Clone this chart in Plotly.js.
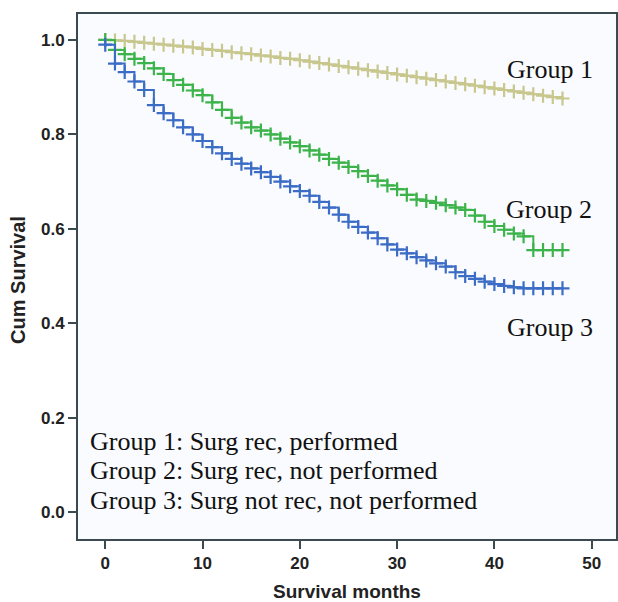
<!DOCTYPE html>
<html>
<head>
<meta charset="utf-8">
<script src="https://cdn.plot.ly/plotly-3.0.1.min.js"></script>
<style>html,body{margin:0;padding:0;background:#fff;}#chart{width:618px;height:602px;}</style>
</head>
<body>
<div id="chart"></div>
<script>
const months = [0,1,2,3,4,5,6,7,8,9,10,11,12,13,14,15,16,17,18,19,20,21,22,23,24,25,26,27,28,29,30,31,32,33,34,35,36,37,38,39,40,41,42,43,44,45,46,47];
const group1 = [1.000,0.999,0.998,0.996,0.994,0.992,0.990,0.988,0.986,0.984,0.981,0.979,0.977,0.974,0.972,0.970,0.967,0.965,0.962,0.960,0.957,0.954,0.951,0.948,0.945,0.942,0.939,0.936,0.933,0.930,0.927,0.924,0.921,0.918,0.915,0.912,0.909,0.906,0.903,0.900,0.897,0.894,0.891,0.888,0.885,0.882,0.879,0.876];
const group2 = [1.000,0.979,0.970,0.960,0.951,0.940,0.928,0.915,0.905,0.893,0.883,0.868,0.852,0.835,0.825,0.815,0.808,0.800,0.791,0.783,0.775,0.766,0.757,0.748,0.740,0.731,0.722,0.712,0.702,0.692,0.684,0.672,0.662,0.659,0.655,0.650,0.645,0.640,0.628,0.615,0.606,0.598,0.590,0.584,0.555,0.555,0.555,0.555];
const group3 = [0.990,0.950,0.932,0.912,0.894,0.862,0.845,0.830,0.815,0.800,0.786,0.773,0.760,0.748,0.738,0.728,0.720,0.710,0.700,0.690,0.680,0.670,0.657,0.645,0.630,0.615,0.604,0.592,0.580,0.567,0.556,0.548,0.540,0.533,0.527,0.520,0.508,0.500,0.494,0.488,0.483,0.479,0.476,0.474,0.474,0.474,0.474,0.474];
const groupNames = ["Group 1","Group 2","Group 3"];
const legendLines = ["Group 1: Surg rec, performed","Group 2: Surg rec, not performed","Group 3: Surg not rec, not performed"];
const xTicks = [0,10,20,30,40,50];
const yTicks = [0.0,0.2,0.4,0.6,0.8,1.0];

const colors = ["#c8c78e","#3db44b","#3b6cc6"];
const series = [group1, group2, group3];

const traces = series.map((ys, i) => ({
  x: months, y: ys, type: 'scatter', mode: 'lines+markers',
  line: {shape: 'hv', color: colors[i], width: 2},
  marker: {symbol: 'cross-thin', size: 10, line: {color: colors[i], width: 2.2}, color: colors[i]},
  showlegend: false, hoverinfo: 'skip'
}));

const serif = "Liberation Serif, Times New Roman, serif";
const labelPos = [[45.7, 0.937],[45.6, 0.640],[45.7, 0.391]];
const annotations = groupNames.map((t, i) => ({
  x: labelPos[i][0], y: labelPos[i][1], xref: 'x', yref: 'y', text: t, showarrow: false,
  xanchor: 'center', yanchor: 'middle', font: {family: serif, size: 26, color: '#111'}
}));
const legendY = [0.150, 0.088, 0.024];
legendLines.forEach((t, i) => annotations.push({
  x: -1.8, y: legendY[i], xref: 'x', yref: 'y', text: t, showarrow: false,
  xanchor: 'left', yanchor: 'middle', font: {family: serif, size: 26, color: '#111'}
}));
annotations.push({
  x: -0.112, y: 0.493, xref: 'paper', yref: 'paper', text: '<b>Cum Survival</b>', showarrow: false,
  textangle: -90, xanchor: 'center', yanchor: 'middle', font: {size: 20, color: '#222'}
});

const layout = {
  width: 618, height: 602,
  margin: {l: 78, r: 2, t: 14, b: 63},
  paper_bgcolor: '#ffffff', plot_bgcolor: '#fafbfe',
  font: {family: 'Liberation Sans, Arial, sans-serif', color: '#222'},
  xaxis: {
    range: [-2.8, 52.5], tickvals: xTicks, ticktext: xTicks.map(String),
    ticks: 'outside', ticklen: 8, tickwidth: 2, tickcolor: '#3a4a50',
    showline: true, linecolor: '#3a4a50', linewidth: 2, mirror: true,
    showgrid: false, zeroline: false,
    tickfont: {size: 17, color: '#222', weight: 'bold'},
    title: {text: '<b>Survival months</b>', font: {size: 19, color: '#222'}, standoff: 13}
  },
  yaxis: {
    range: [-0.057, 1.055], tickvals: yTicks, ticktext: yTicks.map(v => v.toFixed(1)),
    ticks: 'outside', ticklen: 8, tickwidth: 2, tickcolor: '#3a4a50',
    showline: true, linecolor: '#3a4a50', linewidth: 2, mirror: true,
    showgrid: false, zeroline: false,
    tickfont: {size: 17, color: '#222', weight: 'bold'}
  },
  annotations: annotations
};

Plotly.newPlot('chart', traces, layout, {displayModeBar: false, staticPlot: true});
</script>
</body>
</html>
